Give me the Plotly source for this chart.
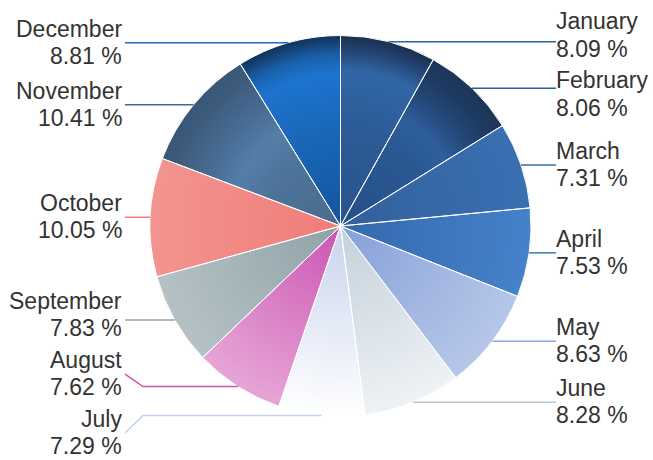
import math
import plotly.graph_objects as go

months = ["January", "February", "March", "April", "May", "June",
          "July", "August", "September", "October", "November", "December"]
shares = [8.09, 8.06, 7.31, 7.53, 8.63, 8.28, 7.29, 7.62, 7.83, 10.05, 10.41, 8.81]

# radial colour stops per slice: (fraction of radius, colour)
fill_stops = [
    [(0, "#29548e"), (0.5, "#2c5b96"), (0.82, "#3166a7"), (0.9, "#264b7c"), (1, "#1a2f4e")],
    [(0, "#27508a"), (0.5, "#2a5893"), (0.65, "#2e5f9d"), (0.78, "#25497a"), (0.9, "#1f3c62"), (1, "#1c3558")],
    [(0, "#33609c"), (1, "#3a6fb2")],
    [(0, "#3568ad"), (1, "#4582c9")],
    [(0, "#86a0d8"), (1, "#b6c7e8")],
    [(0, "#c3d0da"), (1, "#eef2f5")],
    [(0, "#c8d3ec"), (0.85, "#f6f8fc"), (1, "#ffffff")],
    [(0, "#cc55b3"), (1, "#e6a5d6")],
    [(0, "#8fa2a9"), (1, "#b5c2c5")],
    [(0, "#f07c78"), (1, "#f39490")],
    [(0, "#4a6c8e"), (0.4, "#4d7399"), (0.58, "#547ea8"), (0.75, "#476b92"), (0.92, "#3d5b7d"), (1, "#395677")],
    [(0, "#14559e"), (0.5, "#1a67b8"), (0.8, "#1d74cf"), (0.9, "#1a5fa8"), (1, "#113158")],
]
line_colors = ["#2e62a0", "#2d5f9e", "#3b6db0", "#3d78bf", "#8fa9dc", "#b8c8d5",
               "#c5d2ee", "#d050b0", "#8fa5ae", "#f08080", "#46698c", "#1f6bc0"]

W, H = 653, 460
CX, CY, R = 340.5, 226.0, 190.5
LABEL_X_RIGHT, LABEL_X_LEFT = 556, 125
GAP, YMIN, YMAX = 59, 30, 445
LAYERS = 60


def px(x):
    return x / W


def py(y):
    return 1 - y / H


def hex2rgb(h):
    h = h.lstrip("#")
    return [int(h[i:i + 2], 16) for i in (0, 2, 4)]


def color_at(stops, t):
    if t <= stops[0][0]:
        return stops[0][1]
    for (t0, c0), (t1, c1) in zip(stops, stops[1:]):
        if t0 <= t <= t1:
            f = (t - t0) / (t1 - t0) if t1 > t0 else 0
            a, b = hex2rgb(c0), hex2rgb(c1)
            return "rgb({},{},{})".format(*[round(a[i] + (b[i] - a[i]) * f) for i in range(3)])
    return stops[-1][1]


def domain(r):
    return dict(x=[(CX - r) / W, (CX + r) / W], y=[1 - (CY + r) / H, 1 - (CY - r) / H])


fig = go.Figure()
for k in range(LAYERS):
    r = R * (LAYERS - k) / LAYERS
    t = (r - R / LAYERS / 2) / R if k > 0 else 0.99
    fig.add_trace(go.Pie(
        labels=months, values=shares, sort=False, direction="clockwise", rotation=0,
        marker=dict(colors=[color_at(s, t) for s in fill_stops], line=dict(width=0)),
        textinfo="none", hoverinfo="skip", showlegend=False, domain=domain(r),
    ))
fig.add_trace(go.Pie(
    labels=months, values=shares, sort=False, direction="clockwise", rotation=0,
    marker=dict(colors=["rgba(0,0,0,0)"] * len(months), line=dict(color="white", width=1)),
    textinfo="none", hoverinfo="label+percent", showlegend=False, domain=domain(R),
))

total = sum(shares)
points = []
cum = 0.0
for v in shares:
    mid = (cum + v / 2) / total * 2 * math.pi
    cum += v
    points.append((CX + R * math.sin(mid), CY - R * math.cos(mid), math.sin(mid) >= 0))


def spread(idx):
    ys = {i: points[i][1] for i in idx}
    order = sorted(idx, key=lambda i: ys[i])
    for _ in range(400):
        for a, b in zip(order, order[1:]):
            d = ys[b] - ys[a]
            if d < GAP:
                s = (GAP - d) / 2
                ys[a] -= s
                ys[b] += s
        for i in order:
            ys[i] = min(max(ys[i], YMIN), YMAX)
    return ys


right = [i for i, p in enumerate(points) if p[2]]
left = [i for i, p in enumerate(points) if not p[2]]
centers = {}
centers.update(spread(right))
centers.update(spread(left))

font = dict(family="Liberation Sans, Arial, sans-serif", size=23, color="#333333")
for i, (x0, y0, is_right) in enumerate(points):
    c = centers[i]
    lx = LABEL_X_RIGHT if is_right else LABEL_X_LEFT
    sgn = -1 if is_right else 1
    end_y = y0 if abs(y0 - c) < 10 else c
    path = "M {} {} L {} {} L {} {}".format(
        px(lx), py(end_y), px(lx + sgn * 18), py(y0), px(x0), py(y0))
    fig.add_shape(type="path", path=path, xref="paper", yref="paper",
                  line=dict(color=line_colors[i], width=1.5))
    xa = "left" if is_right else "right"
    tx = px(lx - 2) if is_right else px(lx - 1)
    fig.add_annotation(x=tx, y=py(c - 14.2), xref="paper", yref="paper",
                       text=months[i], showarrow=False, xanchor=xa, yanchor="middle",
                       font=font)
    fig.add_annotation(x=tx, y=py(c + 13.2), xref="paper", yref="paper",
                       text="{:.2f} %".format(shares[i]), showarrow=False,
                       xanchor=xa, yanchor="middle", font=font)

fig.update_layout(width=W, height=H, autosize=False,
                  margin=dict(l=0, r=0, t=0, b=0),
                  paper_bgcolor="white", plot_bgcolor="white")
fig.write_html("out.html", post_script="document.body.style.margin='0';",
               config={"displayModeBar": False})
